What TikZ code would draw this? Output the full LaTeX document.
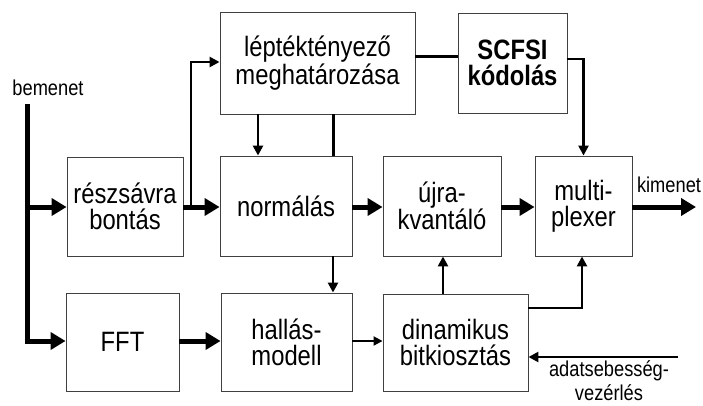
\documentclass[tikz,border=0pt]{standalone}
\usepackage{fontspec}
\setmainfont{Liberation Sans}
\newfontfamily\labf[FakeStretch=0.85]{Liberation Sans}
\usetikzlibrary{arrows.meta}
\begin{document}
\begin{tikzpicture}[x=1pt,y=-1pt,
  blk/.style={draw=black!75,line width=0.9pt,align=center,inner sep=0pt,
    font=\labf\fontsize{28}{26}\selectfont},
  small/.style={font=\labf\fontsize{21.5}{24}\selectfont,inner sep=0pt,align=center},
  thickar/.style={line width=5pt,-{Triangle[length=15pt,width=17pt]}},
  thickln/.style={line width=5pt},
  medar/.style={line width=2.6pt,-{Triangle[length=10pt,width=10pt]}},
  medln/.style={line width=3pt},
  thinar/.style={line width=2pt,-{Triangle[length=9pt,width=9pt]}}
]
\useasboundingbox (0,0) rectangle (703,406);
\fill[white] (0,0) rectangle (703,406);
% boxes
\node[blk,minimum width=116pt,minimum height=99pt] (rb) at (125,206.5) {részsávra\\bontás};
\node[blk,minimum width=113pt,minimum height=98pt] (fft) at (122.5,342) {FFT};
\node[blk,minimum width=195pt,minimum height=102pt] (lep) at (317.5,63) {léptéktényező\\meghatározása};
\node[blk,minimum width=109pt,minimum height=100pt] (scf) at (512.5,63) {\bfseries SCFSI\\\bfseries kódolás};
\node[blk,minimum width=132pt,minimum height=100pt] (nor) at (286,206) {normálás};
\node[blk,minimum width=118pt,minimum height=100pt] (ujr) at (442,206) {újra-\\kvantáló};
\node[blk,minimum width=97pt,minimum height=100pt] (mux) at (583.5,206) {multi-\\plexer};
\node[blk,minimum width=131pt,minimum height=98pt] (hal) at (286.5,342) {hallás-\\modell};
\node[blk,minimum width=145pt,minimum height=97pt] (din) at (455.5,342.5) {dinamikus\\bitkiosztás};
% labels
\node[small] (bem) at (48,88) {bemenet};
\node[small] (kim) at (669,185) {kimenet};
\node[small] (ada) at (609,381) {adatsebesség-\\vezérlés};
% coordinates
\coordinate (bt) at (27,104);
\coordinate (bb) at (27,341);
\coordinate (br) at (191,207);
\coordinate (kout) at (696,207);
\coordinate (ain) at (678,357);
% input
\draw[thickln] (bt) -- (bb);
\draw[thickar] (27,207) -- (rb.west |- 0,207);
\draw[thickar] ([xshift=-2.5pt]bb) -- (fft.west |- bb);
% main row
\draw[thickar] (rb.east |- br) -- (nor.west |- br);
\draw[medar] (br) |- (lep.west |- 0,62);
\draw[thickar] (nor.east |- 0,207) -- (ujr.west |- 0,207);
\draw[thickar] (ujr.east |- 0,207) -- (mux.west |- 0,207);
\draw[thickar] (mux.east |- 0,207) -- (kout);
% top row
\draw[medln] (lep.east |- 0,57) -- (scf.west |- 0,57);
\draw[medar] (scf.east |- 0,59) -| (mux.north);
\draw[medar] (lep.south -| 258,0) -- (nor.north -| 258,0);
\draw[medln] (lep.south -| 333,0) -- (nor.north -| 333,0);
\draw[medar] (nor.south -| 333,0) -- (hal.north -| 333,0);
% bottom row
\draw[thickar] (fft.east |- 0,341) -- (hal.west |- 0,341);
\draw[thinar] (hal.east |- 0,341) -- (din.west |- 0,341);
\draw[medar] (din.north -| 443,0) -- (ujr.south -| 443,0);
\draw[medar] (din.east |- 0,308) -| (mux.south -| 582,0);
\draw[medar] (ain) -- (din.east |- ain);
\end{tikzpicture}
\end{document}
